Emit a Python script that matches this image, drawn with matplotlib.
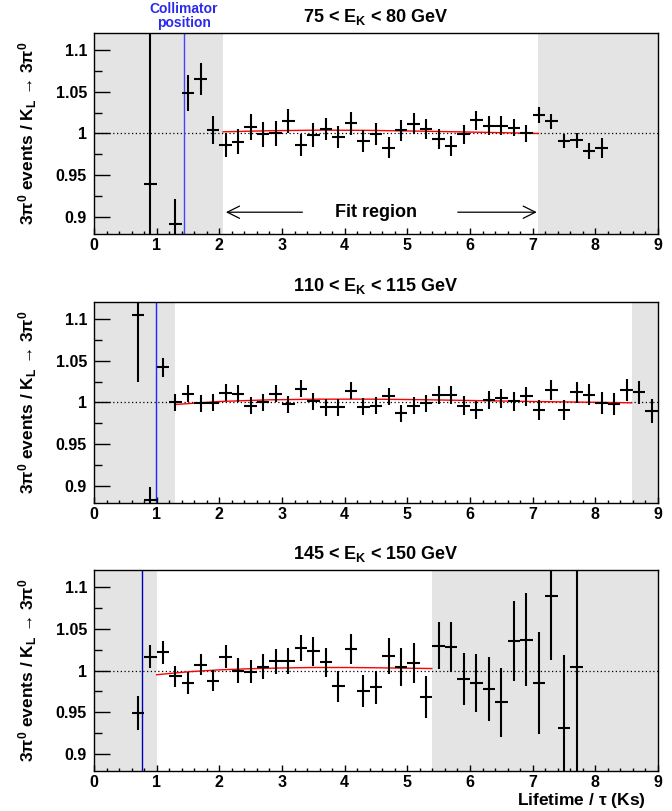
import numpy as np
import matplotlib
matplotlib.use("Agg")
import matplotlib.pyplot as plt
from matplotlib.ticker import MultipleLocator, FixedLocator, FixedFormatter

# fonts: Helvetica-like bold everywhere, mathtext too
plt.rcParams['font.family'] = ['Liberation Sans', 'DejaVu Sans']
plt.rcParams['font.weight'] = 'bold'
plt.rcParams['mathtext.fontset'] = 'custom'
plt.rcParams['mathtext.rm'] = 'Liberation Sans:bold'
plt.rcParams['mathtext.it'] = 'Liberation Sans:bold'
plt.rcParams['mathtext.bf'] = 'Liberation Sans:bold'
plt.rcParams['mathtext.sf'] = 'Liberation Sans:bold'
plt.rcParams['mathtext.default'] = 'rm'

# ---- data ----
p1_x = [0.9, 1.3, 1.5, 1.7, 1.9, 2.1, 2.3, 2.5, 2.7, 2.9, 3.1, 3.3, 3.5, 3.7, 3.9, 4.1, 4.3, 4.5,
        4.7, 4.9, 5.1, 5.3, 5.5, 5.7, 5.9, 6.1, 6.3, 6.5, 6.7, 6.9, 7.1, 7.3, 7.5, 7.7, 7.9, 8.1]
p1_y = [0.940, 0.892, 1.048, 1.065, 1.004, 0.986, 0.990, 1.0075, 0.999, 1.000, 1.015, 0.986,
        0.998, 1.0055, 0.996, 1.012, 0.991, 0.999, 0.983, 1.0036, 1.0115, 1.005, 0.993, 0.985,
        0.999, 1.016, 1.0095, 1.0095, 1.007, 1.000, 1.022, 1.0147, 0.991, 0.992, 0.979, 0.983]
p1_err = [0.3, 0.03, 0.0216, 0.019, 0.0165, 0.0145, 0.015, 0.0157, 0.015, 0.0147, 0.0143, 0.0133,
          0.014, 0.0133, 0.0135, 0.0135, 0.013, 0.013, 0.0125, 0.0125, 0.0125, 0.012, 0.012, 0.012,
          0.0115, 0.0113, 0.011, 0.011, 0.0105, 0.010, 0.0093, 0.009, 0.0087, 0.009, 0.0095, 0.012]

p2_x = [0.7, 0.9, 1.1, 1.3, 1.5, 1.7, 1.9, 2.1, 2.3, 2.5, 2.7, 2.9, 3.1, 3.3, 3.5, 3.7, 3.9, 4.1,
        4.3, 4.5, 4.7, 4.9, 5.1, 5.3, 5.5, 5.7, 5.9, 6.1, 6.3, 6.5, 6.7, 6.9, 7.1, 7.3, 7.5, 7.7,
        7.9, 8.1, 8.3, 8.5, 8.7, 8.9]
p2_y = [1.104, 0.883, 1.042, 1.000, 1.0104, 0.999, 0.9996, 1.0115, 1.0104, 0.9964, 1.0004, 1.0104,
        0.998, 1.0163, 1.0016, 0.9944, 0.9944, 1.0143, 0.995, 0.9964, 1.0072, 0.987, 0.9964, 0.999,
        1.0092, 1.0092, 0.9964, 0.991, 1.0028, 1.0048, 1.0016, 1.0072, 0.991, 1.0151, 0.991, 1.0123,
        1.0092, 0.999, 0.998, 1.0151, 1.012, 0.9897]
p2_err = [0.08, 0.016, 0.011, 0.010, 0.010, 0.010, 0.010, 0.010, 0.010, 0.010, 0.010, 0.010, 0.010,
          0.010, 0.010, 0.010, 0.010, 0.010, 0.010, 0.0105, 0.0105, 0.0105, 0.0105, 0.0105, 0.011,
          0.011, 0.011, 0.011, 0.011, 0.0115, 0.0115, 0.0115, 0.012, 0.012, 0.012, 0.0125, 0.0125,
          0.013, 0.013, 0.0135, 0.014, 0.0145]

p3_x = [0.7, 0.9, 1.1, 1.3, 1.5, 1.7, 1.9, 2.1, 2.3, 2.5, 2.7, 2.9, 3.1, 3.3, 3.5, 3.7, 3.9, 4.1,
        4.3, 4.5, 4.7, 4.9, 5.1, 5.3, 5.5, 5.7, 5.9, 6.1, 6.3, 6.5, 6.7, 6.9, 7.1, 7.3, 7.5, 7.7]
p3_y = [0.949, 1.0167, 1.0218, 0.9929, 0.985, 1.0071, 0.988, 1.0167, 1.000, 0.9988, 1.0048, 1.011,
        1.011, 1.027, 1.023, 1.0099, 0.981, 1.0258, 0.9754, 0.980, 1.0179, 1.004, 1.0087, 0.968,
        1.0298, 1.0278, 0.990, 0.985, 0.978, 0.962, 1.035, 1.037, 0.985, 1.089, 0.931, 1.0048]
p3_err = [0.02, 0.0135, 0.0135, 0.0127, 0.013, 0.013, 0.013, 0.0135, 0.0145, 0.014, 0.015, 0.015,
          0.0155, 0.016, 0.017, 0.0175, 0.018, 0.018, 0.019, 0.020, 0.0215, 0.023, 0.024, 0.025,
          0.028, 0.030, 0.031, 0.0345, 0.038, 0.041, 0.048, 0.056, 0.061, 0.076, 0.088, 0.3]

# fitted curves (red)
fit1_x = [2.06, 2.8, 3.6, 4.4, 5.2, 6.0, 6.6, 7.09]
fit1_y = [1.002, 1.0033, 1.004, 1.0037, 1.0028, 1.0017, 1.0008, 1.000]
fit2_x = [1.29, 2.0, 2.8, 3.6, 4.4, 5.2, 6.0, 6.8, 7.6, 8.58]
fit2_y = [0.9976, 1.0012, 1.0032, 1.004, 1.004, 1.0034, 1.0024, 1.0014, 1.0006, 0.9996]
fit3_x = [1.0, 1.5, 2.0, 2.5, 3.0, 3.5, 4.0, 4.5, 5.0, 5.39]
fit3_y = [0.995, 0.9985, 1.0008, 1.0022, 1.0031, 1.0036, 1.0036, 1.0033, 1.0028, 1.0024]

titles = [r'75 < E$_{K}$ < 80 GeV', r'110 < E$_{K}$ < 115 GeV', r'145 < E$_{K}$ < 150 GeV']
fit_ranges = [(2.06, 7.09), (1.29, 8.58), (1.0, 5.39)]
collimator = [1.43, 0.99, 0.76]
blue_cols = ['#4444ff', '#2222ff', '#0000bb']

ytick_vals = [0.9, 0.95, 1.0, 1.05, 1.1]
ytick_labels = ['0.9', '0.95', '1', '1.05', '1.1']
xtick_vals = list(range(10))
ylab = '3$\\pi^{0}$ events / K$_{L}$ \u2192 3$\\pi^{0}$'

fig = plt.figure(figsize=(6.72, 8.11), dpi=100)
grey = '#e4e4e4'
bottoms = [0.7115, 0.3798, 0.0493]

panels = [(p1_x, p1_y, p1_err, fit1_x, fit1_y),
          (p2_x, p2_y, p2_err, fit2_x, fit2_y),
          (p3_x, p3_y, p3_err, fit3_x, fit3_y)]

for i, (px, py, pe, fx, fy) in enumerate(panels):
    ax = fig.add_axes([0.1399, bottoms[i], 0.8393, 0.2478])
    ax.set_xlim(0, 9)
    ax.set_ylim(0.88, 1.12)
    lo, hi = fit_ranges[i]
    ax.axvspan(0, lo, color=grey, lw=0, zorder=0)
    ax.axvspan(hi, 9, color=grey, lw=0, zorder=0)
    ax.axhline(1.0, color='black', lw=0.9, ls=(0, (1, 2)), zorder=1)
    ax.axvline(collimator[i], color=blue_cols[i], lw=1.0, zorder=2)
    ax.plot(fx, fy, color='red', lw=1.0, zorder=3)
    ax.errorbar(px, py, xerr=0.1, yerr=pe, fmt='none', ecolor='black',
                elinewidth=1.5, capsize=0, zorder=4)

    ax.yaxis.set_major_locator(FixedLocator(ytick_vals))
    ax.yaxis.set_major_formatter(FixedFormatter(ytick_labels))
    ax.yaxis.set_minor_locator(MultipleLocator(0.025))
    ax.xaxis.set_major_locator(FixedLocator(xtick_vals))
    ax.xaxis.set_minor_locator(MultipleLocator(0.2))
    ax.tick_params(axis='y', which='major', direction='in', length=11.5, width=1, labelsize=11.5, pad=5)
    ax.tick_params(axis='y', which='minor', direction='in', length=5.8, width=1)
    ax.tick_params(axis='x', which='major', direction='in', length=4, width=1, labelsize=11.5, pad=3)
    ax.tick_params(axis='x', which='minor', direction='in', length=2, width=1)
    for lab in ax.get_xticklabels() + ax.get_yticklabels():
        lab.set_fontweight('bold')
    for sp in ax.spines.values():
        sp.set_linewidth(1.0)

    ax.text(0.5, 1 + 16 / 201, titles[i], transform=ax.transAxes, ha='center', va='center',
            fontsize=13, fontweight='bold')
    ax.set_ylabel(ylab, fontsize=12.5, fontweight='bold')
    ax.yaxis.set_label_coords(-0.098, 0.5)

    if i == 0:
        ax.text(collimator[i], 1 + 17 / 201, 'Collimator\nposition', transform=ax.get_xaxis_transform(),
                ha='center', va='center', color='#2a2aee', fontsize=10, fontweight='bold',
                linespacing=0.95)
        ax.text(4.5, 0.906, 'Fit region', ha='center', va='center', fontsize=13, fontweight='bold')
        ax.annotate('', xy=(2.06, 0.906), xytext=(3.37, 0.906),
                    arrowprops=dict(arrowstyle='->', color='black', lw=0.9, mutation_scale=22))
        ax.annotate('', xy=(7.11, 0.906), xytext=(5.76, 0.906),
                    arrowprops=dict(arrowstyle='->', color='black', lw=0.9, mutation_scale=22))

fig.text(646 / 672, 1 - 805 / 811, r'Lifetime / $\tau$ (Ks)', ha='right', va='baseline',
         fontsize=12.5, fontweight='bold')

fig.savefig('out.png', dpi=100)
